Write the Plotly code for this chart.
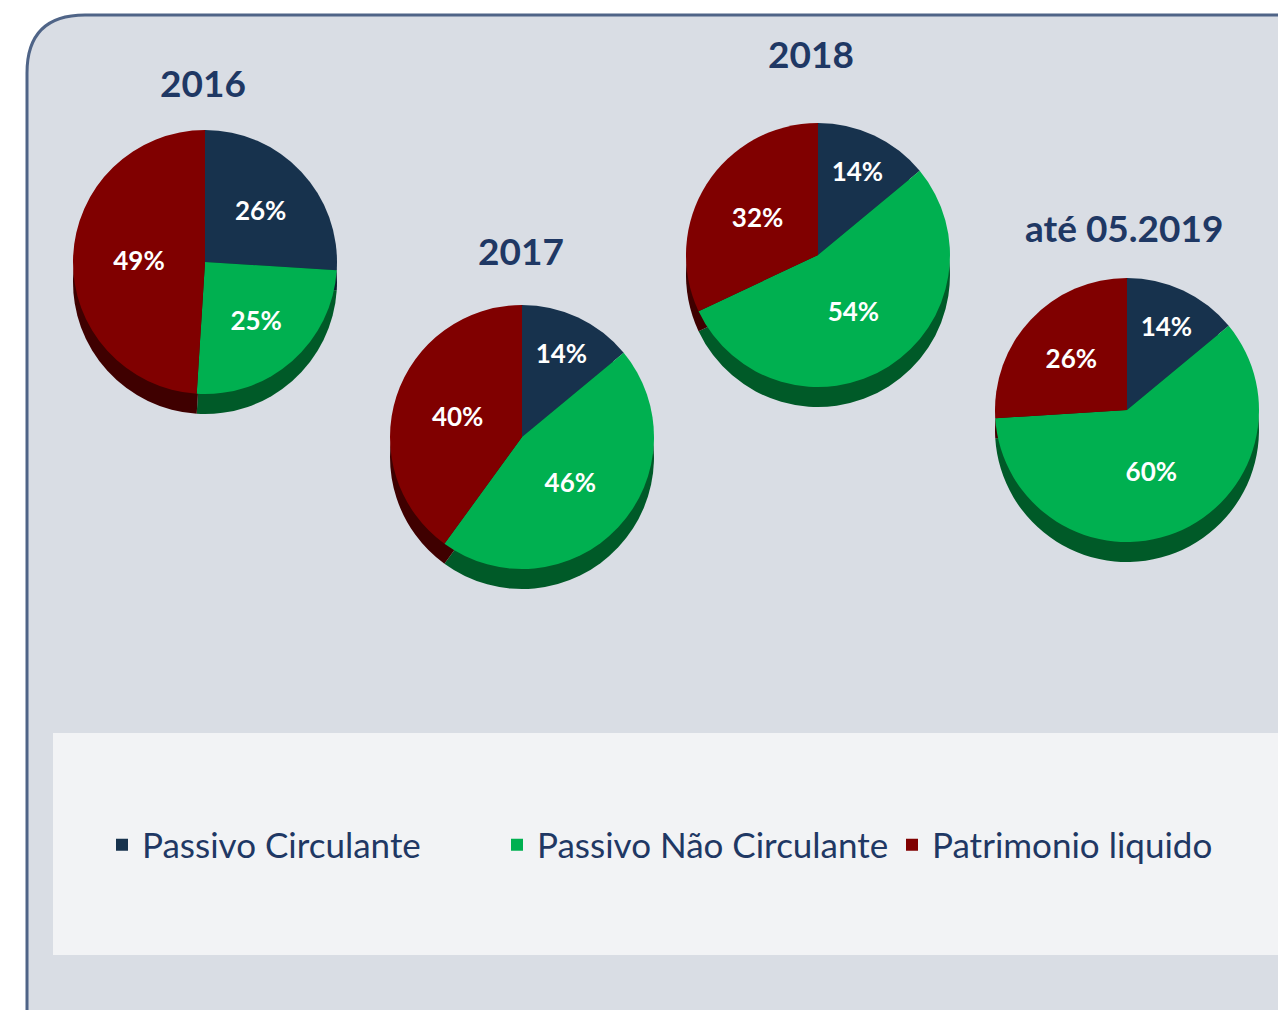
import plotly.graph_objects as go

W, H = 1286, 1010
OFF = 8  # default page body margin

categories = ["Passivo Circulante", "Passivo Não Circulante", "Patrimonio liquido"]
periods = ["2016", "2017", "2018", "até 05.2019"]
values_2016 = [26, 25, 49]
values_2017 = [14, 46, 40]
values_2018 = [14, 54, 32]
values_2019 = [14, 60, 26]
series = [values_2016, values_2017, values_2018, values_2019]

colors = ["#17324d", "#00b050", "#800000"]
side_colors = ["#0c1d2e", "#005a28", "#3f0000"]
title_color = "#1f3864"
FONT = "Lato"

# layout (pixel centres of pies and titles, in window pixels)
pie_centres = [(205, 262), (522, 437), (818, 255), (1127, 410)]
title_pos = [(203, 83), (521, 250), (811, 53), (1124, 228)]
R = 132
DEPTH = 20


def px_x(x):
    return (x - OFF) / W


def px_y(y):
    return 1 - (y - OFF) / H


fig = go.Figure()

for i, (vals, (cx, cy)) in enumerate(zip(series, pie_centres)):
    # side (depth) of the pie
    fig.add_trace(go.Pie(
        labels=categories, values=vals, sort=False, direction="clockwise",
        marker=dict(colors=side_colors, line=dict(width=0)),
        textinfo="none", hoverinfo="skip", showlegend=False,
        domain=dict(x=[px_x(cx - R), px_x(cx + R)],
                    y=[px_y(cy + DEPTH + R), px_y(cy + DEPTH - R)]),
    ))
    # top face
    fig.add_trace(go.Pie(
        labels=categories, values=vals, sort=False, direction="clockwise",
        marker=dict(colors=colors, line=dict(width=0)),
        texttemplate="%{value}%", textposition="inside",
        insidetextorientation="horizontal",
        textfont=dict(family=FONT, size=26, color="white", weight="bold"),
        showlegend=(i == 0), name=periods[i],
        domain=dict(x=[px_x(cx - R), px_x(cx + R)],
                    y=[px_y(cy + R), px_y(cy - R)]),
    ))

annotations = []
for t, (x, y) in zip(periods, title_pos):
    annotations.append(dict(
        text=f"<b>{t}</b>", x=px_x(x), y=px_y(y), xref="paper", yref="paper",
        showarrow=False, xanchor="center", yanchor="middle",
        font=dict(family=FONT, size=37, color=title_color),
    ))

# panel with rounded top-left corner
x0, y0, x1, y1, rr = 27, 15, 1330, 1040, 58
path = (f"M {px_x(x0)},{px_y(y1)} L {px_x(x0)},{px_y(y0 + rr)} "
        f"Q {px_x(x0)},{px_y(y0)} {px_x(x0 + rr)},{px_y(y0)} "
        f"L {px_x(x1)},{px_y(y0)} L {px_x(x1)},{px_y(y1)} Z")
shapes = [
    dict(type="path", path=path, xref="paper", yref="paper", layer="below",
         fillcolor="#d9dde4", line=dict(color="#4f6487", width=3)),
    dict(type="rect", xref="paper", yref="paper", layer="below",
         x0=px_x(53), x1=px_x(1310), y0=px_y(955), y1=px_y(733),
         fillcolor="#f2f3f5", line=dict(width=0)),
]

fig.update_layout(
    width=W, height=H,
    margin=dict(l=0, r=0, t=0, b=0),
    paper_bgcolor="white",
    font=dict(family=FONT),
    shapes=shapes,
    annotations=annotations,
    legend=dict(
        orientation="h", x=px_x(102), xanchor="left", y=px_y(845), yanchor="middle",
        font=dict(family=FONT, size=35, color=title_color),
        entrywidth=350, entrywidthmode="pixels",
        bgcolor="rgba(0,0,0,0)", traceorder="normal",
    ),
)

fig.write_html("out.html")
